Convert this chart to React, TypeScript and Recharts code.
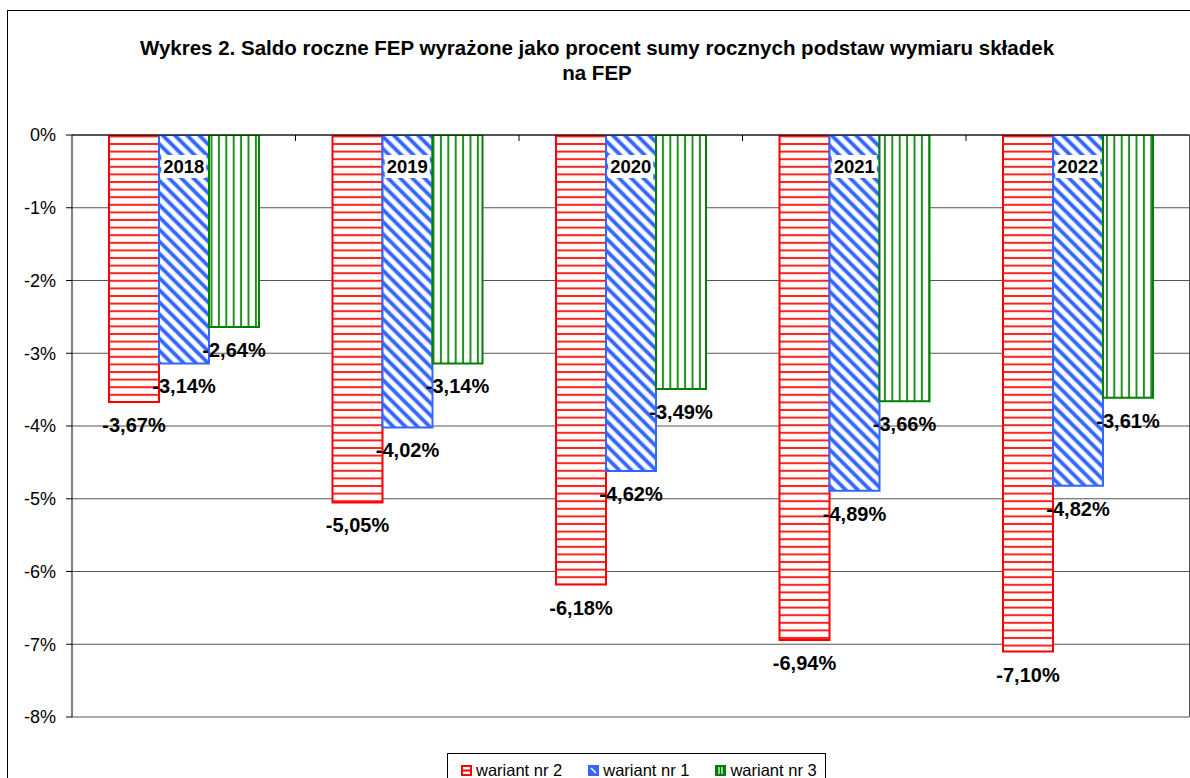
import { BarChart, Bar, XAxis, YAxis, CartesianGrid, LabelList } from 'recharts';

const CATEGORIES = ['2018', '2019', '2020', '2021', '2022'];
const WARIANT_2 = [-3.67, -5.05, -6.18, -6.94, -7.1];
const WARIANT_1 = [-3.14, -4.02, -4.62, -4.89, -4.82];
const WARIANT_3 = [-2.64, -3.14, -3.49, -3.66, -3.61];
const Y_TICKS = [0, -1, -2, -3, -4, -5, -6, -7, -8];

const SERIES = [
  { key: 'w2', name: 'wariant nr 2', stroke: '#ff0000', pattern: 'pat-red' },
  { key: 'w1', name: 'wariant nr 1', stroke: '#3366ff', pattern: 'pat-blue' },
  { key: 'w3', name: 'wariant nr 3', stroke: '#008000', pattern: 'pat-green' },
];

const data = CATEGORIES.map((year, i) => ({
  year,
  w2: WARIANT_2[i],
  w1: WARIANT_1[i],
  w3: WARIANT_3[i],
}));

const FONT = '"Liberation Sans", Arial, sans-serif';
const CHART_W = 1190;
const CHART_H = 770;
const MARGIN = { top: 123, right: 8.5, left: 0, bottom: 64 };
const X_AXIS_H = 1;
const Y_AXIS_W = 64;
const PLOT_TOP = MARGIN.top + X_AXIS_H;
const PLOT_W = CHART_W - MARGIN.left - MARGIN.right - Y_AXIS_W;

const fmt = (v: number) => v.toFixed(2).replace('.', ',') + '%';

// category label sits just under the 0% line, on a white box; small ticks between years
function YearTick(props: any) {
  const { x, payload, index } = props;
  const axisY = PLOT_TOP;
  const band = PLOT_W / CATEGORIES.length;
  return (
    <g>
      {index > 0 && (
        <line x1={x - band / 2} x2={x - band / 2} y1={axisY} y2={axisY + 6} stroke="#000" />
      )}
      <rect x={x - 22.5} y={axisY + 20} width={45} height={23} fill="#fff" />
      <text
        x={x}
        y={axisY + 31.5}
        textAnchor="middle"
        dominantBaseline="central"
        fontFamily={FONT}
        fontSize={18.5}
        fontWeight="bold"
        fill="#000"
      >
        {payload.value}
      </text>
    </g>
  );
}

function ValueLabel(props: any) {
  const { x, y, width, height, value } = props;
  const bottom = Math.max(y, y + height);
  return (
    <text
      x={x + width / 2}
      y={bottom + 23}
      textAnchor="middle"
      dominantBaseline="central"
      fontFamily={FONT}
      fontSize={20}
      fontWeight="bold"
      fill="#000"
    >
      {fmt(value)}
    </text>
  );
}

function LegendIcon({ s }: { s: (typeof SERIES)[number] }) {
  return (
    <svg width={11} height={11} style={{ display: 'block' }}>
      <rect x={1} y={1} width={9} height={9} fill={`url(#${s.pattern}-icon)`} stroke={s.stroke} strokeWidth={2} />
    </svg>
  );
}

export default function App() {
  return (
    <div style={{ position: 'fixed', left: 0, top: 0, width: 1190, height: 778, overflow: 'hidden', background: '#fff' }}>
      <div
        style={{
          position: 'absolute',
          left: 7,
          top: 10,
          width: 1200,
          height: 800,
          border: '1px solid #000',
          fontFamily: FONT,
        }}
      >
        <div
          style={{
            position: 'absolute',
            left: 0,
            top: 23.5,
            width: 1178,
            textAlign: 'center',
            fontSize: 20.5,
            lineHeight: '25px',
            fontWeight: 'bold',
            color: '#000',
          }}
        >
          Wykres 2. Saldo roczne FEP wyrażone jako procent sumy rocznych podstaw wymiaru składek
          <br />
          na FEP
        </div>

        <div style={{ position: 'absolute', left: 0, top: 0 }}>
          <BarChart width={CHART_W} height={CHART_H} data={data} margin={MARGIN} barGap={0} barSize={50}>
            <defs>
              <pattern id="pat-red" patternUnits="userSpaceOnUse" width={8} height={7.6}>
                <rect width={8} height={7.6} fill="#fff" />
                <line x1={0} x2={8} y1={3.8} y2={3.8} stroke="#ff2020" strokeWidth={2} />
              </pattern>
              <pattern id="pat-blue" patternUnits="userSpaceOnUse" width={8.6} height={8.6} patternTransform="rotate(-45)">
                <rect width={8.6} height={8.6} fill="#fff" />
                <line x1={4.3} x2={4.3} y1={0} y2={8.6} stroke="#3366ff" strokeWidth={3.8} />
              </pattern>
              <pattern id="pat-green" patternUnits="userSpaceOnUse" width={7.4} height={8}>
                <rect width={7.4} height={8} fill="#fff" />
                <line x1={3.7} x2={3.7} y1={0} y2={8} stroke="#1f8f1f" strokeWidth={2} />
              </pattern>
              <pattern id="pat-red-icon" patternUnits="userSpaceOnUse" width={11} height={11}>
                <rect width={11} height={11} fill="#fff" />
                <line x1={0} x2={11} y1={5.5} y2={5.5} stroke="#ff0000" strokeWidth={2} />
              </pattern>
              <pattern id="pat-blue-icon" patternUnits="userSpaceOnUse" width={11} height={11}>
                <rect width={11} height={11} fill="#3366ff" />
                <line x1={3} x2={8} y1={3} y2={8} stroke="#fff" strokeWidth={1.5} />
              </pattern>
              <pattern id="pat-green-icon" patternUnits="userSpaceOnUse" width={11} height={11}>
                <rect width={11} height={11} fill="#008000" />
                <line x1={4} x2={4} y1={2} y2={9} stroke="#fff" strokeWidth={1.2} />
                <line x1={7} x2={7} y1={2} y2={9} stroke="#fff" strokeWidth={1.2} />
              </pattern>
            </defs>
            <CartesianGrid
              stroke="#555"
              verticalCoordinatesGenerator={({ offset }: any) => [offset.left + offset.width]}
            />
            <YAxis
              width={Y_AXIS_W}
              domain={[-8, 0]}
              ticks={Y_TICKS}
              interval={0}
              allowDataOverflow
              tickFormatter={(v: number) => `${v}%`}
              axisLine={{ stroke: '#000' }}
              tickLine={{ stroke: '#000' }}
              tickSize={6}
              tickMargin={10}
              tick={{ fill: '#000', fontSize: 18, fontFamily: FONT }}
            />
            {SERIES.map((s) => (
              <Bar
                key={s.key}
                dataKey={s.key}
                name={s.name}
                fill={`url(#${s.pattern})`}
                stroke={s.stroke}
                strokeWidth={2}
                isAnimationActive={false}
              >
                <LabelList dataKey={s.key} content={<ValueLabel />} />
              </Bar>
            ))}
            <XAxis
              dataKey="year"
              orientation="top"
              height={X_AXIS_H}
              axisLine={{ stroke: '#000' }}
              tickLine={false}
              interval={0}
              tick={(p: any) => <YearTick {...p} />}
            />
          </BarChart>
        </div>

        <div
          style={{
            position: 'absolute',
            left: 439,
            top: 742,
            width: 379,
            height: 30,
            border: '1px solid #000',
            display: 'flex',
            alignItems: 'flex-start',
            paddingLeft: 13,
            paddingTop: 8,
            boxSizing: 'border-box',
            gap: 26,
            fontSize: 16.5,
            color: '#000',
          }}
        >
          {SERIES.map((s) => (
            <div key={s.key} style={{ display: 'flex', alignItems: 'center', gap: 4, height: 16 }}>
              <LegendIcon s={s} />
              <span style={{ lineHeight: '16px', whiteSpace: 'nowrap' }}>{s.name}</span>
            </div>
          ))}
        </div>
      </div>
    </div>
  );
}
